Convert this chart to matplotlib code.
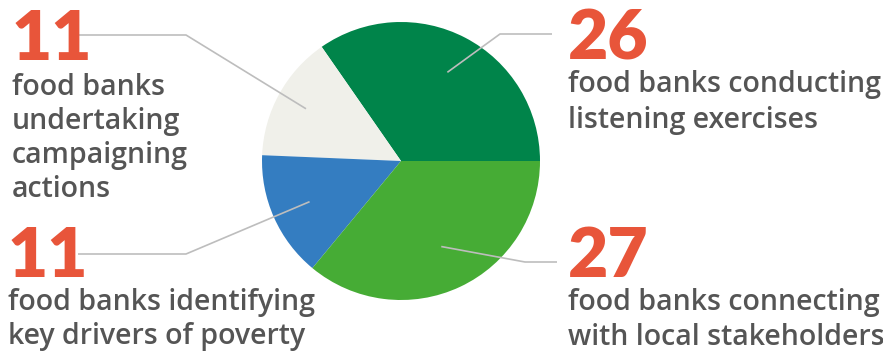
import numpy as np
import matplotlib.pyplot as plt

# pie data (screen order, counter-clockwise from 3 o'clock)
labels = ["listening exercises", "campaigning actions",
          "key drivers of poverty", "local stakeholders"]
counts = [26, 11, 11, 27]
colors = ["#00844A", "#F0F0EA", "#347DC1", "#46AC35"]

# text blocks: number, caption lines
numbers = ["26", "11", "11", "27"]
captions = [["food banks conducting", "listening exercises"],
            ["food banks", "undertaking", "campaigning", "actions"],
            ["food banks identifying", "key drivers of poverty"],
            ["food banks connecting", "with local stakeholders"]]

W, H = 883, 354
fig = plt.figure(figsize=(W / 100, H / 100), dpi=100)
ax = fig.add_axes([0, 0, 1, 1])

def py(y):
    # pixel row -> data y
    return H - y

cx, cy, R = 401, 161, 139
wedges, _ = ax.pie(counts, colors=colors, startangle=0, counterclock=True,
                   center=(cx, py(cy)), radius=R, frame=True,
                   wedgeprops=dict(linewidth=0))
ax.set_xlim(0, W)
ax.set_ylim(0, H)
ax.set_aspect("equal")
ax.axis("off")

# leader lines: (inner radius fraction, elbow x, elbow y, end x)
leaders = [(0.72, 500, 34, 552),
           (0.78, 186, 35, 78),
           (0.72, 186, 254, 78),
           (0.68, 525, 262, 557)]
for w, (rf, ex, ey, endx) in zip(wedges, leaders):
    ang = np.deg2rad((w.theta1 + w.theta2) / 2)
    sx = cx + rf * R * np.cos(ang)
    sy = py(cy) + rf * R * np.sin(ang)
    ax.plot([sx, ex, endx], [sy, py(ey), py(ey)], color="#BDBDBD", lw=1.2,
            solid_capstyle="butt", zorder=1)

# text layout: number (left x, baseline y), caption left x, caption baselines
text_pos = [(568, 60, 568, [92, 128]),
            (12, 60, 12, [95, 129, 163, 197]),
            (8, 277, 8, [310, 344]),
            (568, 277, 568, [310, 345])]
num_color = "#E8553A"
txt_color = "#555555"
for num, cap, (nx, ny, tx, bl) in zip(numbers, captions, text_pos):
    ax.text(nx, py(ny), num, fontsize=50, fontweight="heavy", family="Lato",
            color=num_color, ha="left", va="baseline", zorder=3)
    for line, b in zip(cap, bl):
        ax.text(tx, py(b), line, fontsize=20.5, fontweight="semibold",
                family="Open Sans", color=txt_color, ha="left", va="baseline")

fig.savefig("out.png", dpi=100)
